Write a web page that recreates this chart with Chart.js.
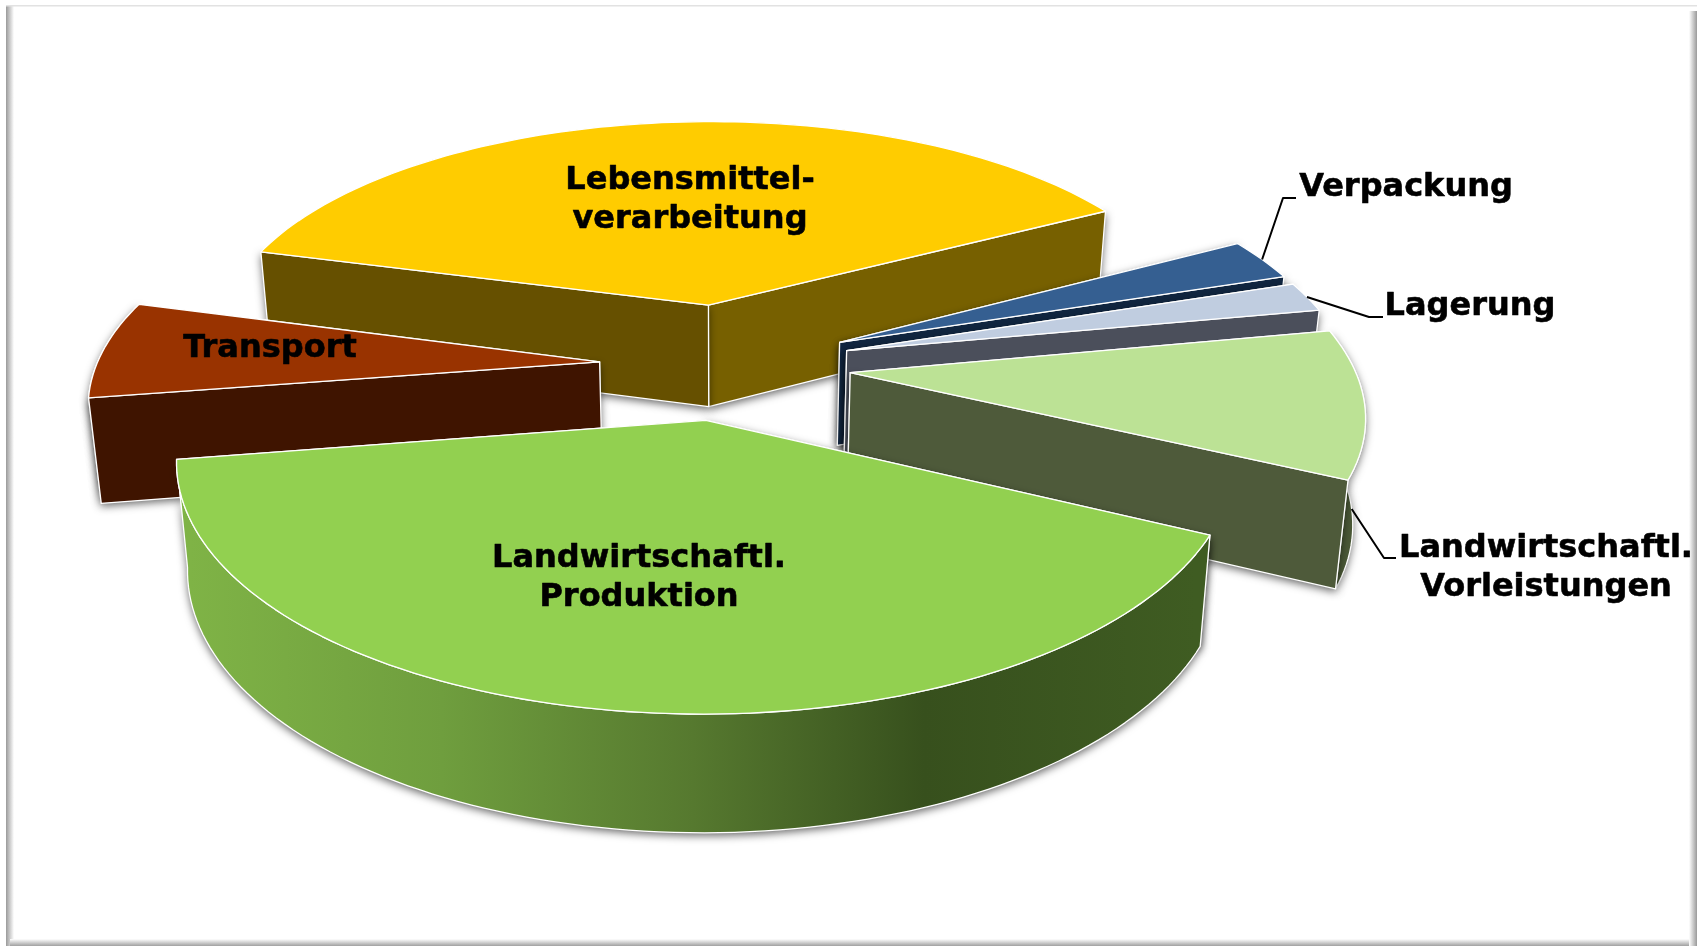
<!DOCTYPE html>
<html>
<head>
<meta charset="utf-8">
<title>Lebensmittelkette</title>
<script src="https://cdn.jsdelivr.net/npm/chart.js@4"></script>
<style>
  html, body { margin: 0; padding: 0; background: #fff; overflow: hidden; }
  canvas { display: block; }
</style>
</head>
<body>
<canvas id="pie" width="1697" height="946"></canvas>
<script>
// Chart data, clockwise starting from the small blue slice
const categories = [
  "Verpackung",
  "Lagerung",
  "Landwirtschaftl. Vorleistungen",
  "Landwirtschaftl. Produktion",
  "Transport",
  "Lebensmittelverarbeitung",
]
const shares = [2.9, 2.05, 10.1, 40.4, 6.7, 37.85]

// How far each slice is pulled out of the pie
const explode = [106, 106, 105, 98, 103, 114]

// Slice colours
const topColors = ["#355F91", "#C0CDE0", "#BCE295", "#92D050", "#993300", "#FFCC00"]
const startWallColors = ["#10253F", "#4B4F5B", "#4E5A3A", "#3E5A22", "#3F1400", "#665000"]
const endWallColors = ["#10253F", "#4B4F5B", "#4E5A3A", "#3E5A22", "#3F1400", "#776000"]
const outerWallColors = ["#10253F", "#4B4F5B", "#4A5836", null, "#3F1400", "#665000"]

// Text placed on or beside the slices
const labelLines = [
  ["Verpackung"],
  ["Lagerung"],
  ["Landwirtschaftl.", "Vorleistungen"],
  ["Landwirtschaftl.", "Produktion"],
  ["Transport"],
  ["Lebensmittel-", "verarbeitung"],
]
const labelCenters = [[1406, 188], [1470, 307], [1546, 549], [639, 559], [270, 349], [690, 181]]
const leaderKnees = [
  [[1283, 198], [1296, 198]],
  [[1369, 317], [1383, 317]],
  [[1384, 558], [1396, 558]],
  null, null, null,
]
const leaderDrops = [0, 0, 1, 0, 0, 0]

// Perspective of the pie plane
const view = { x0: 723.7, y0: 365, rx: 503, ry: 229, k: 0.155 }
const wall = { base: 88.7, grow: 0.042, shrink: 0.98 }

function project(u, v) {
  const w = 1 - view.k * v
  return [view.x0 + (view.rx * u) / w, view.y0 + (view.ry * v) / w]
}

function drop(p) {
  return [view.x0 + (p[0] - view.x0) * wall.shrink, p[1] + wall.base + wall.grow * p[1]]
}

function tracePolygon(ctx, pts) {
  ctx.beginPath()
  pts.forEach((p, i) => (i ? ctx.lineTo(p[0], p[1]) : ctx.moveTo(p[0], p[1])))
  ctx.closePath()
}

function fillFace(ctx, pts, color, shadow) {
  ctx.save()
  if (shadow) {
    ctx.shadowColor = "rgba(0, 0, 0, 0.6)"
    ctx.shadowBlur = 9
    ctx.shadowOffsetY = 3
  }
  ctx.fillStyle = color
  tracePolygon(ctx, pts)
  ctx.fill()
  ctx.restore()
  ctx.strokeStyle = "#ffffff"
  ctx.lineWidth = 1.3
  ctx.lineJoin = "round"
  tracePolygon(ctx, pts)
  ctx.stroke()
}

// Geometry of one arc element, in units of the pie radius
function sliceShape(arc) {
  const mid = (arc.startAngle + arc.endAngle) / 2
  const d = arc.options.offset / arc.outerRadius
  const ox = d * Math.cos(mid)
  const oy = d * Math.sin(mid)
  const rim = []
  const steps = Math.max(4, Math.ceil((arc.endAngle - arc.startAngle) * 40))
  for (let i = 0; i <= steps; i++) {
    const a = arc.startAngle + ((arc.endAngle - arc.startAngle) * i) / steps
    rim.push(project(ox + Math.cos(a), oy + Math.sin(a)))
  }
  return { apex: project(ox, oy), rim, mid, ox, oy }
}

function drawSlice(ctx, arc, i) {
  const { apex, rim } = sliceShape(arc)
  const first = rim[0]
  const last = rim[rim.length - 1]

  let outerColor = outerWallColors[i]
  if (!outerColor) {
    const g = ctx.createLinearGradient(190, 0, 1196, 0)
    g.addColorStop(0, "#7FB346")
    g.addColorStop(0.25, "#6F9E3E")
    g.addColorStop(0.5, "#56792F")
    g.addColorStop(0.73, "#37501D")
    g.addColorStop(1, "#3F5C22")
    outerColor = g
  }

  const faces = [
    { pts: [apex, first, drop(first), drop(apex)], color: startWallColors[i], depth: (apex[1] + first[1]) / 2 },
    { pts: [apex, last, drop(last), drop(apex)], color: endWallColors[i], depth: (apex[1] + last[1]) / 2 },
    { pts: [...rim, ...rim.slice().reverse().map(drop)], color: outerColor, depth: rim[Math.floor(rim.length / 2)][1] },
  ]
  // The farthest wall sits behind the top face and casts no visible shadow
  faces.sort((a, b) => a.depth - b.depth).forEach((f, n) => fillFace(ctx, f.pts, f.color, n > 0))

  ctx.fillStyle = topColors[i]
  tracePolygon(ctx, [apex, ...rim])
  ctx.fill()
  ctx.strokeStyle = "#ffffff"
  ctx.lineWidth = 1.3
  ctx.stroke()
}

function drawLeader(ctx, arc, i) {
  if (!leaderKnees[i]) return
  const { ox, oy, mid } = sliceShape(arc)
  let start = project(ox + Math.cos(mid), oy + Math.sin(mid))
  if (leaderDrops[i]) {
    const low = drop(start)
    start = [start[0] + (low[0] - start[0]) * leaderDrops[i], start[1] + (low[1] - start[1]) * leaderDrops[i]]
  }
  ctx.strokeStyle = "#000000"
  ctx.lineWidth = 2
  ctx.beginPath()
  ctx.moveTo(start[0], start[1])
  leaderKnees[i].forEach((p) => ctx.lineTo(p[0], p[1]))
  ctx.stroke()
}

function drawFrame(ctx, w, h) {
  let g = ctx.createLinearGradient(6, 0, 14, 0)
  g.addColorStop(0, "#9a9a9a")
  g.addColorStop(1, "#ffffff")
  ctx.fillStyle = g
  ctx.fillRect(6, 6, 8, h - 6)
  g = ctx.createLinearGradient(0, 939, 0, 946)
  g.addColorStop(0, "#ffffff")
  g.addColorStop(1, "#a0a0a0")
  ctx.fillStyle = g
  ctx.fillRect(10, 939, w - 10, 7)
  g = ctx.createLinearGradient(1689, 0, 1697, 0)
  g.addColorStop(0, "#ffffff")
  g.addColorStop(1, "#9a9a9a")
  ctx.fillStyle = g
  ctx.fillRect(1689, 11, 8, h - 11)
  ctx.fillStyle = "#e2e2e2"
  ctx.fillRect(6, 5, w - 6, 1.5)
}

const piePlugin = {
  id: "perspectivePie",
  // The stock flat arcs are replaced by the projected solid slices
  beforeDatasetsDraw(chart) {
    const { ctx, width, height } = chart
    const arcs = chart.getDatasetMeta(0).data
    const order = arcs
      .map((arc, i) => ({ i, key: Math.sin((arc.startAngle + arc.endAngle) / 2) }))
      .sort((a, b) => a.key - b.key)

    ctx.save()
    drawFrame(ctx, width, height)
    order.forEach(({ i }) => drawSlice(ctx, arcs[i], i))
    arcs.forEach((arc, i) => drawLeader(ctx, arc, i))

    ctx.fillStyle = "#000000"
    ctx.strokeStyle = "#000000"
    ctx.lineWidth = 0.6
    ctx.font = 'bold 32px "DejaVu Sans"'
    ctx.textAlign = "center"
    ctx.textBaseline = "middle"
    labelLines.forEach((lines, i) => {
      lines.forEach((line, n) => {
        const y = labelCenters[i][1] + n * 38.5
        ctx.fillText(line, labelCenters[i][0], y)
        ctx.strokeText(line, labelCenters[i][0], y)
      })
    })
    ctx.restore()
    return false
  },
}

new Chart(document.getElementById("pie").getContext("2d"), {
  type: "pie",
  data: {
    labels: categories,
    datasets: [
      {
        data: shares,
        backgroundColor: topColors,
        borderWidth: 0,
        offset: explode,
      },
    ],
  },
  options: {
    responsive: false,
    devicePixelRatio: 1,
    animation: false,
    events: [],
    rotation: 61.5,
    layout: { padding: 0 },
    plugins: {
      legend: { display: false },
      tooltip: { enabled: false },
    },
  },
  plugins: [piePlugin],
})
</script>
</body>
</html>
